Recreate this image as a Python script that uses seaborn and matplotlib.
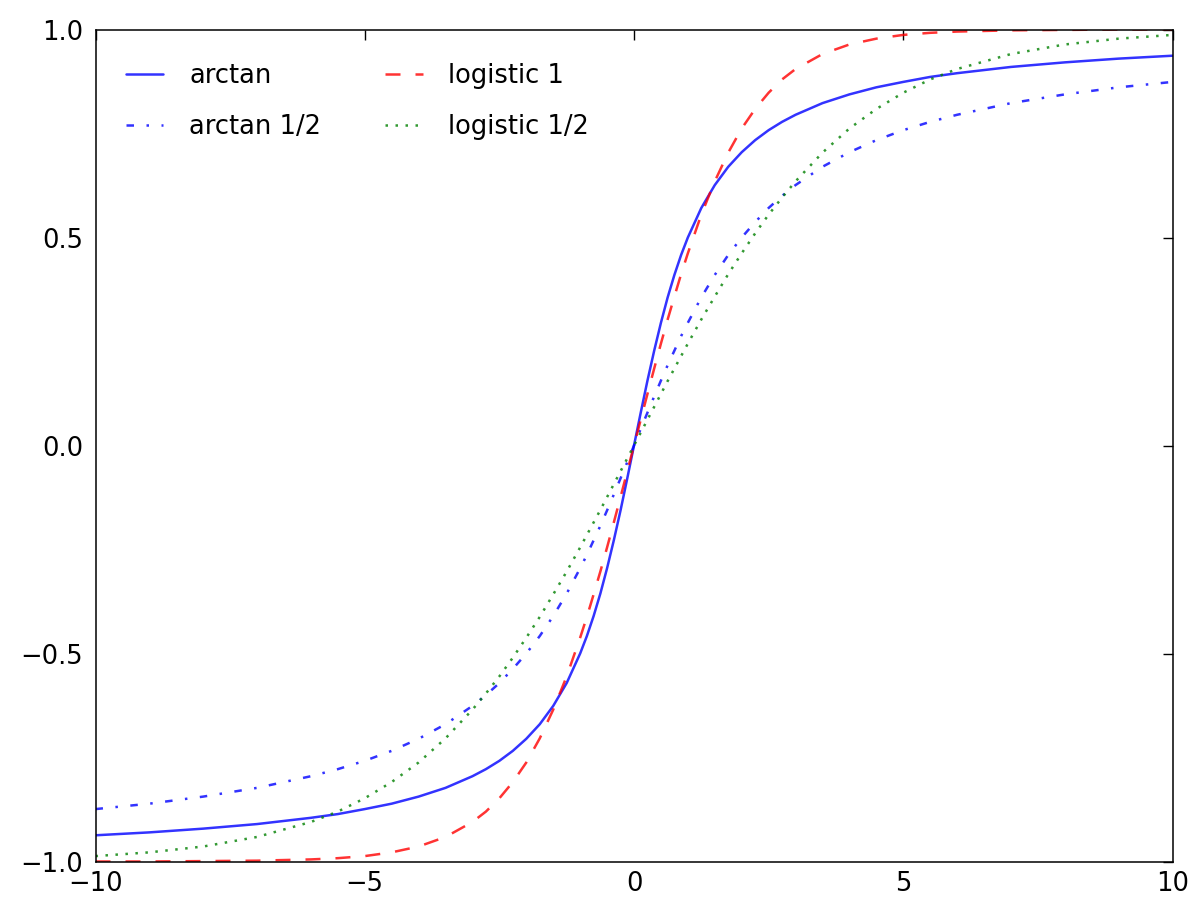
import matplotlib
matplotlib.use("Agg")
import matplotlib.pyplot as plt
import seaborn as sns

x = [-10, -9, -8, -7, -6, -5.5, -5, -4.5, -4, -3.5, -3, -2.75, -2.5, -2.25, -2, -1.75,
     -1.5, -1.25, -1, -0.875, -0.75, -0.625, -0.5, -0.375, -0.25, -0.125, 0,
     0.125, 0.25, 0.375, 0.5, 0.625, 0.75, 0.875, 1, 1.25, 1.5, 1.75, 2, 2.25, 2.5, 2.75,
     3, 3.5, 4, 4.5, 5, 5.5, 6, 7, 8, 9, 10]

arctan = [-0.937, -0.930, -0.921, -0.910, -0.895, -0.886, -0.874, -0.861, -0.844, -0.823,
          -0.795, -0.778, -0.758, -0.734, -0.705, -0.670, -0.626, -0.571, -0.500, -0.458,
          -0.410, -0.356, -0.295, -0.228, -0.156, -0.079, 0.0,
          0.079, 0.156, 0.228, 0.295, 0.356, 0.410, 0.458, 0.500, 0.571, 0.626, 0.670,
          0.705, 0.734, 0.758, 0.778, 0.795, 0.823, 0.844, 0.861, 0.874, 0.886, 0.895,
          0.910, 0.921, 0.930, 0.937]

arctan_half = [-0.874, -0.861, -0.844, -0.823, -0.795, -0.778, -0.758, -0.734, -0.705, -0.670,
               -0.626, -0.600, -0.571, -0.537, -0.500, -0.458, -0.410, -0.356, -0.295, -0.263,
               -0.228, -0.193, -0.156, -0.118, -0.079, -0.040, 0.0,
               0.040, 0.079, 0.118, 0.156, 0.193, 0.228, 0.263, 0.295, 0.356, 0.410, 0.458,
               0.500, 0.537, 0.571, 0.600, 0.626, 0.670, 0.705, 0.734, 0.758, 0.778, 0.795,
               0.823, 0.844, 0.861, 0.874]

logistic_1 = [-1.000, -1.000, -0.999, -0.998, -0.995, -0.992, -0.987, -0.978, -0.964, -0.941,
              -0.905, -0.880, -0.848, -0.809, -0.762, -0.704, -0.635, -0.555, -0.462, -0.412,
              -0.358, -0.303, -0.245, -0.185, -0.124, -0.062, 0.0,
              0.062, 0.124, 0.185, 0.245, 0.303, 0.358, 0.412, 0.462, 0.555, 0.635, 0.704,
              0.762, 0.809, 0.848, 0.880, 0.905, 0.941, 0.964, 0.978, 0.987, 0.992, 0.995,
              0.998, 0.999, 1.000, 1.000]

logistic_half = [-0.987, -0.978, -0.964, -0.941, -0.905, -0.880, -0.848, -0.809, -0.762, -0.704,
                 -0.635, -0.596, -0.555, -0.510, -0.462, -0.412, -0.358, -0.303, -0.245, -0.215,
                 -0.185, -0.155, -0.124, -0.093, -0.062, -0.031, 0.0,
                 0.031, 0.062, 0.093, 0.124, 0.155, 0.185, 0.215, 0.245, 0.303, 0.358, 0.412,
                 0.462, 0.510, 0.555, 0.596, 0.635, 0.704, 0.762, 0.809, 0.848, 0.880, 0.905,
                 0.941, 0.964, 0.978, 0.987]

labels = ["arctan", "arctan 1/2", "logistic 1", "logistic 1/2"]
xticks = [-10, -5, 0, 5, 10]
yticks = [-1.0, -0.5, 0.0, 0.5, 1.0]

sns.set_style("white")
plt.rcParams["font.family"] = ["DejaVu Sans"]
plt.rcParams["text.color"] = "black"
plt.rcParams["lines.scale_dashes"] = True

fig = plt.figure(figsize=(11.9, 8.99), dpi=100)
ax = fig.add_axes([95.5 / 1190, (899 - 861.5) / 899, 1077 / 1190, 832 / 899])

lw = 1.8
sns.lineplot(x=x, y=arctan, ax=ax, color=(0, 0, 1), alpha=0.8, lw=lw,
             linestyle="-", label=labels[0])
sns.lineplot(x=x, y=arctan_half, ax=ax, color=(0, 0, 1), alpha=0.8, lw=lw,
             linestyle=(0, (3, 5, 1, 5)), label=labels[1])
sns.lineplot(x=x, y=logistic_1, ax=ax, color=(1, 0, 0), alpha=0.8, lw=lw,
             linestyle=(0, (6, 6)), label=labels[2])
sns.lineplot(x=x, y=logistic_half, ax=ax, color=(0, 0.5, 0), alpha=0.8, lw=lw,
             linestyle=(0, (1, 3)), label=labels[3])

ax.set_xlim(-10, 10)
ax.set_ylim(-1.0, 1.0)
ax.set_xticks(xticks)
ax.set_yticks(yticks)
ax.set_xticklabels(["\u221210", "\u22125", "0", "5", "10"])
ax.set_yticklabels(["\u22121.0", "\u22120.5", "0.0", "0.5", "1.0"])
ax.tick_params(direction="in", length=7.2, width=1, top=True, right=True,
               labelsize=18.5, color="black", labelcolor="black")
ax.tick_params(axis="x", pad=7)
ax.tick_params(axis="y", pad=9)
for s in ax.spines.values():
    s.set_color("black")
    s.set_linewidth(1.1)
ax.set_xlabel("")
ax.set_ylabel("")

leg = ax.legend(loc="upper left", bbox_to_anchor=(5 / 1077, 1 - 8 / 832),
                ncol=2, frameon=False, fontsize=18.5,
                handlelength=1.45, handletextpad=1.0, columnspacing=2.5,
                labelspacing=0.98, borderaxespad=0.6)
for t in leg.get_texts():
    t.set_color("black")

fig.savefig("out.png", dpi=100)
